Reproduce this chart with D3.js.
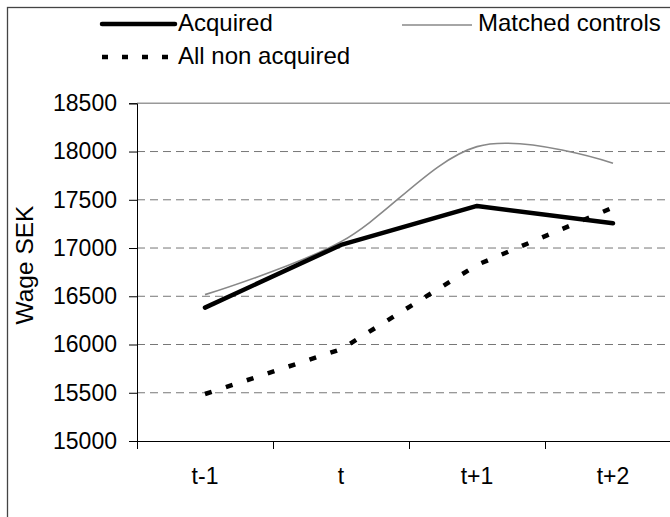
<!DOCTYPE html>
<html>
<head>
<meta charset="utf-8">
<script src="https://cdn.jsdelivr.net/npm/d3@7"></script>
<style>
  html, body { margin: 0; padding: 0; background: #fff; }
  text { font-family: "Liberation Sans", Arial, sans-serif; }
</style>
</head>
<body>
<script>
// chart data
const periods = ["t-1", "t", "t+1", "t+2"];
const acquired = [16382, 17032, 17436, 17257];
const matchedControls = [16517, 17066, 18051, 17879];
const allNonAcquired = [15487, 15951, 16825, 17420];
const yTicks = [15000, 15500, 16000, 16500, 17000, 17500, 18000, 18500];

const width = 670;
const height = 517;
const fontSize = 23;
const legendFont = 24;

const svg = d3.select("body").append("svg")
    .attr("width", width)
    .attr("height", height);

// outer chart frame (runs off the right and bottom edges)
svg.append("rect")
    .attr("x", 7.5)
    .attr("y", 7.5)
    .attr("width", 700)
    .attr("height", 540)
    .attr("fill", "none")
    .attr("stroke", "#444")
    .attr("stroke-width", 1.3);

// scales
const x = d3.scaleBand()
    .domain(periods)
    .range([137, 681]);

const xEdges = d3.scaleLinear()
    .domain([0, periods.length])
    .range([137, 681]);

const y = d3.scaleLinear()
    .domain([15000, 18500])
    .range([441, 103.3]);

const cx = d => x(d) + x.bandwidth() / 2;

// dashed gridlines
svg.append("g")
  .selectAll("line")
  .data(yTicks.filter(v => v > 15000 && v < 18500))
  .join("line")
    .attr("x1", 137)
    .attr("x2", 681)
    .attr("y1", d => y(d))
    .attr("y2", d => y(d))
    .attr("stroke", "#777")
    .attr("stroke-width", 1)
    .attr("stroke-dasharray", "8,5");

// plot area top border
svg.append("line")
    .attr("x1", 137)
    .attr("x2", 681)
    .attr("y1", y(18500))
    .attr("y2", y(18500))
    .attr("stroke", "#999")
    .attr("stroke-width", 1.5);

// y axis
const yAxis = svg.append("g")
    .attr("transform", "translate(137,0)")
    .call(d3.axisLeft(y).tickValues(yTicks).tickSize(8).tickPadding(12).tickFormat(d3.format("d")));
yAxis.select(".domain").attr("stroke", "#000");
yAxis.selectAll(".tick line").attr("stroke", "#000");
yAxis.selectAll("text")
    .attr("font-size", fontSize)
    .attr("font-family", "Liberation Sans, Arial, sans-serif")
    .attr("fill", "#000");

// x axis: ticks between categories, labels at centres
const xTicks = svg.append("g")
    .attr("transform", "translate(0,441)")
    .call(d3.axisBottom(xEdges).tickValues(d3.range(periods.length + 1)).tickSize(8).tickFormat(""));
xTicks.select(".domain").attr("stroke", "#000");
xTicks.selectAll(".tick line").attr("stroke", "#000");

svg.append("g")
  .selectAll("text")
  .data(periods)
  .join("text")
    .attr("x", d => cx(d))
    .attr("y", 484)
    .attr("text-anchor", "middle")
    .attr("font-size", fontSize)
    .text(d => d);

// y axis title
svg.append("text")
    .attr("transform", "translate(33,265) rotate(-90)")
    .attr("text-anchor", "middle")
    .attr("font-size", 24.5)
    .text("Wage SEK");

// lines
const straight = d3.line()
    .x((d, i) => cx(periods[i]))
    .y(d => y(d));

const smooth = d3.line()
    .x((d, i) => cx(periods[i]))
    .y(d => y(d))
    .curve(d3.curveCardinal.tension(0));

svg.append("path")
    .attr("d", smooth(matchedControls))
    .attr("fill", "none")
    .attr("stroke", "#888")
    .attr("stroke-width", 1.6);

svg.append("path")
    .attr("d", straight(allNonAcquired))
    .attr("fill", "none")
    .attr("stroke", "#000")
    .attr("stroke-width", 4.5)
    .attr("stroke-dasharray", "7,15");

svg.append("path")
    .attr("d", straight(acquired))
    .attr("fill", "none")
    .attr("stroke", "#000")
    .attr("stroke-width", 4.5)
    .attr("stroke-linecap", "round")
    .attr("stroke-linejoin", "round");

// legend
const legend = svg.append("g");

legend.append("line")
    .attr("x1", 102).attr("x2", 175)
    .attr("y1", 24).attr("y2", 24)
    .attr("stroke", "#000")
    .attr("stroke-width", 4.5)
    .attr("stroke-linecap", "round");
legend.append("text")
    .attr("x", 178).attr("y", 31)
    .attr("font-size", legendFont)
    .text("Acquired");

legend.append("line")
    .attr("x1", 402).attr("x2", 472)
    .attr("y1", 25).attr("y2", 25)
    .attr("stroke", "#888")
    .attr("stroke-width", 1.6);
legend.append("text")
    .attr("x", 478).attr("y", 31)
    .attr("font-size", legendFont)
    .text("Matched controls");

legend.append("line")
    .attr("x1", 102).attr("x2", 176)
    .attr("y1", 57).attr("y2", 57)
    .attr("stroke", "#000")
    .attr("stroke-width", 4.5)
    .attr("stroke-dasharray", "6,14");
legend.append("text")
    .attr("x", 178).attr("y", 64)
    .attr("font-size", legendFont)
    .text("All non acquired");
</script>
</body>
</html>
